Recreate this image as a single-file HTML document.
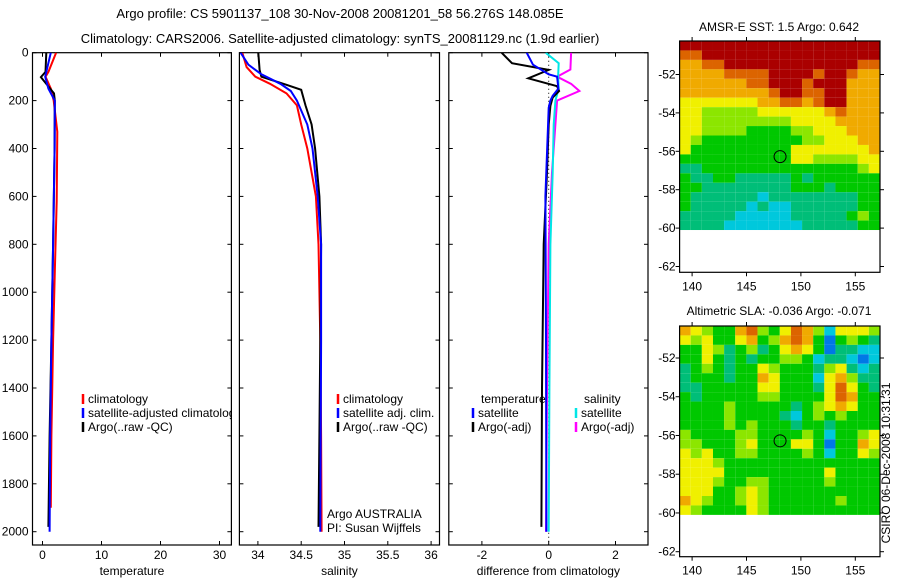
<!DOCTYPE html>
<html><head><meta charset="utf-8">
<style>
html,body{margin:0;padding:0;background:#fff;}
svg{display:block;font-family:"Liberation Sans",Arial,sans-serif;}
text{font-size:12px;fill:#000;}
</style></head>
<body>
<svg id="c" width="900" height="580" viewBox="0 0 900 580" xmlns="http://www.w3.org/2000/svg">
<text x="340" y="18" text-anchor="middle" style="font-size:13px">Argo profile: CS 5901137_108 30-Nov-2008 20081201_58 56.276S 148.085E</text>
<text x="340" y="43" text-anchor="middle" style="font-size:13px">Climatology: CARS2006. Satellite-adjusted climatology: synTS_20081129.nc (1.9d earlier)</text>
<text x="779" y="31" text-anchor="middle">AMSR-E SST: 1.5 Argo: 0.642</text>
<text x="779" y="315" text-anchor="middle">Altimetric SLA: -0.036 Argo: -0.071</text>
<text transform="translate(890,463) rotate(-90)" text-anchor="middle">CSIRO 06-Dec-2008 10:31:31</text>
</svg>
<script>
// ---------- data ----------
const depthTicks=[0,200,400,600,800,1000,1200,1400,1600,1800,2000];
const tempTicks=[0,10,20,30];
const salTicks=[34,34.5,35,35.5,36];
const diffTicks=[-2,0,2];
const latTicks=[-52,-54,-56,-58,-60,-62];
const lonTicks=[140,145,150,155];

const tArgoDepth=[0,80,102,170,200,400,800,1200,1600,1980];
const tArgo=[0.65,0.5,-0.27,1.95,2.08,2.05,1.8,1.5,1.2,1.0];
const tClimDepth=[0,80,100,150,200,330,620,900,1200,1600,1900];
const tClim=[2.3,1.0,0.5,1.4,1.9,2.5,2.4,2.1,1.8,1.5,1.4];
const tSatDepth=[0,100,150,200,400,800,1200,1600,2000];
const tSat=[1.4,0.45,1.0,2.08,2.05,1.8,1.5,1.3,1.2];

const sArgoDepth=[0,72,100,134,155,220,300,400,600,800,1200,1600,1980];
const sArgo=[34.005,34.02,34.04,34.33,34.5,34.55,34.62,34.66,34.71,34.73,34.72,34.71,34.70];
const sSatDepth=[0,50,90,130,160,200,300,400,600,800,1200,1600,2000];
const sSat=[33.8,33.89,34.04,34.26,34.38,34.45,34.57,34.63,34.69,34.73,34.73,34.725,34.72];
const sClimDepth=[0,60,100,130,170,220,300,400,500,600,800,1200,1600,2000];
const sClim=[33.82,33.87,33.97,34.14,34.33,34.45,34.50,34.57,34.62,34.67,34.70,34.72,34.73,34.735];

const dTArgoDepth=[0,44,72,107,140,160,187,222,300,500,800,1400,1980];
const dTArgo=[-1.41,-1.10,0.0,-0.61,0.25,0.31,0.12,0.05,0.0,-0.05,-0.15,-0.2,-0.22];
const dTSatDepth=[0,50,90,100,150,180,200,230,600,1200,2000];
const dTSat=[-0.66,-0.47,0.0,0.25,0.29,0.12,0.05,0.0,-0.1,-0.08,-0.07];
const dSSatDepth=[0,44,100,150,200,300,500,800,1400,2000];
const dSSat=[-0.09,0.3,0.28,0.3,0.2,0.15,0.12,0.05,0.02,0.0];
const dSArgoDepth=[0,70,100,130,160,200,300,500,800,1400,2000];
const dSArgo=[0.67,0.65,0.25,0.67,0.92,0.25,0.2,0.1,0.0,-0.05,-0.08];

const sstRows=["999999999999999999","889999999999999999","778899999999999988","777788889999899877","777777889998999777","777777778998899777","666666677887899777","665555566666678777","665555555566667777","665555444455666777","654444444445566677","644444444466666667","444444444466555566","334444444444444456","433443333343444444","443333333344434444","433333323333333344","433333232233333344","333332222233333454","333322222223333344"];
const slaRows=["765447854687526665","656446745787414543","446534534676413322","446434344554233212","345434465444356323","344434476444267533","334444466444368643","434444455444468744","444454444434567644","444454444324545444","444454544434434444","544445544445424456","554445644466414476","656445544445424465","666544444444444444","666644444444464444","666544554444454444","666445654444444444","765445654444445444","654444654444444444"];
const palette=["#0028b4","#0078e6","#00c8dc","#00be78","#00c800","#8ce600","#f0f000","#f0aa00","#dc6400","#aa0000"];

// ---------- helpers ----------
const svg=document.getElementById('c');
const NS='http://www.w3.org/2000/svg';
function mk(tag,attrs,parent){const e=document.createElementNS(NS,tag);for(const k in attrs)e.setAttribute(k,attrs[k]);(parent||svg).appendChild(e);return e;}
const Y0=52.7, YS=0.2395;
function yD(d){return Y0+YS*d;}
const PT=52.7, PB=545;
const panels=[
 {name:'temperature',l:32.5,r:231.4,x:v=>42.5+5.9*v,ticks:tempTicks,label:'temperature'},
 {name:'salinity',l:239.4,r:439.5,x:v=>257.9+86.6*(v-34),ticks:salTicks,label:'salinity'},
 {name:'difference',l:448.8,r:648,x:v=>548.7+33.4*v,ticks:diffTicks,label:'difference from climatology'}
];
panels.forEach((p,i)=>{
  const g=mk('g',{});
  
  
  const fr=mk('rect',{x:p.l,y:PT,width:p.r-p.l,height:PB-PT,fill:'none',stroke:'#000','stroke-width':1.2},g);
  
  
  depthTicks.forEach(d=>{
    const y=yD(d);
    mk('line',{x1:p.l,x2:p.l+4,y1:y,y2:y,stroke:'#000'},g);
    mk('line',{x1:p.r,x2:p.r-4,y1:y,y2:y,stroke:'#000'},g);
    if(i===0){const t=mk('text',{x:p.l-4,y:y+4,'text-anchor':'end'},g);t.textContent=d;
      
      }
  });
  p.ticks.forEach(v=>{
    const x=p.x(v);
    mk('line',{x1:x,x2:x,y1:PB,y2:PB-4,stroke:'#000'},g);
    mk('line',{x1:x,x2:x,y1:PT,y2:PT+4,stroke:'#000'},g);
    const t=mk('text',{x:x,y:559,'text-anchor':'middle'},g);t.textContent=v;
    
    
  });
  const at=mk('text',{x:(p.l+p.r)/2,y:575,'text-anchor':'middle'},g);at.textContent=p.label;
  
  
  const cp=mk('clipPath',{id:'cp'+i},svg);
  mk('rect',{x:p.l,y:PT,width:p.r-p.l,height:PB-PT},cp);
  p.g=mk('g',{'clip-path':'url(#cp'+i+')'},g);
});
function series(pi,depths,vals,color,name){
  const p=panels[pi];
  const pts=depths.map((d,k)=>p.x(vals[k]).toFixed(1)+','+yD(d).toFixed(1)).join(' ');
  const l=mk('polyline',{points:pts,fill:'none',stroke:color,'stroke-width':2},p.g);
  
  
}
const zl=mk('line',{x1:panels[2].x(0),x2:panels[2].x(0),y1:PT,y2:PB,stroke:'#000','stroke-dasharray':'1,3'},panels[2].g);



series(0,tClimDepth,tClim,'#ff0000','temp-climatology-line');
series(0,tArgoDepth,tArgo,'#000000','temp-argo-line');
series(0,tSatDepth,tSat,'#0000ff','temp-satellite-line');
series(1,sClimDepth,sClim,'#ff0000','sal-climatology-line');
series(1,sArgoDepth,sArgo,'#000000','sal-argo-line');
series(1,sSatDepth,sSat,'#0000ff','sal-satellite-line');
series(2,dSArgoDepth,dSArgo,'#ff00ff','sal-argo-diff-line');
series(2,dSSatDepth,dSSat,'#00e6e6','sal-satellite-diff-line');
series(2,dTArgoDepth,dTArgo,'#000000','temp-argo-diff-line');
series(2,dTSatDepth,dTSat,'#0000ff','temp-satellite-diff-line');

function legend(pi,x,y,color,label,name){
  const g=mk('g',{},panels[pi].g);
  
  
  if(color)mk('line',{x1:x,x2:x,y1:y-9,y2:y+1,stroke:color,'stroke-width':2.5},g);
  const t=mk('text',{x:color?x+5:x,y:y},g);t.textContent=label;
}
legend(0,83,403,'#ff0000','climatology','legend-climatology');
legend(0,83,417,'#0000ff','satellite-adjusted climatology','legend-satellite-adjusted');
legend(0,83,431,'#000000','Argo(..raw -QC)','legend-argo');
legend(1,338,403,'#ff0000','climatology','legend-climatology');
legend(1,338,417,'#0000ff','satellite adj. clim.','legend-satellite-adj');
legend(1,338,431,'#000000','Argo(..raw -QC)','legend-argo');
legend(2,481,403,null,'temperature','legend-temperature-header');
legend(2,584,403,null,'salinity','legend-salinity-header');
legend(2,473,417,'#0000ff','satellite','legend-temp-satellite');
legend(2,473,431,'#000000','Argo(-adj)','legend-temp-argo');
legend(2,576,417,'#00e6e6','satellite','legend-sal-satellite');
legend(2,576,431,'#ff00ff','Argo(-adj)','legend-sal-argo');
legend(1,327,518,null,'Argo AUSTRALIA','argo-australia-note');
legend(1,327,532,null,'PI: Susan Wijffels','pi-note');

// ---------- maps ----------
const ML=679.6, MR=880;
function xLon(lon){return 692.1+(lon-140)*10.88;}
function drawMap(rows,top,bottom,y52,sc,name){
  const yLat=lat=>y52+(-52-lat)*sc;
  const latTop=-52+(y52-top)/sc, latBot=-60.1;
  const lonL=138.85, lonR=157.27;
  const g=mk('g',{});
  
  
  const nr=rows.length, nc=rows[0].length;
  const dl=(latTop-latBot)/nr, dn=(lonR-lonL)/nc;
  rows.forEach((row,r)=>{
    for(let c=0;c<nc;c++){
      const x1=xLon(lonL+c*dn), x2=xLon(lonL+(c+1)*dn);
      const y1=yLat(latTop-r*dl), y2=yLat(latTop-(r+1)*dl);
      const cell=mk('rect',{x:x1.toFixed(2),y:y1.toFixed(2),width:(x2-x1).toFixed(2),height:(y2-y1).toFixed(2),fill:palette[+row[c]]},g);
      
      
    }
  });
  const fr=mk('rect',{x:ML,y:top,width:MR-ML,height:bottom-top,fill:'none',stroke:'#000','stroke-width':1.2},g);
  
  
  latTicks.forEach(l=>{
    const y=yLat(l);
    mk('line',{x1:ML,x2:ML-4,y1:y,y2:y,stroke:'#000'},g);
    mk('line',{x1:MR,x2:MR+4,y1:y,y2:y,stroke:'#000'},g);
    const t=mk('text',{x:ML-4,y:y+4,'text-anchor':'end'},g);t.textContent=l;
    
    
  });
  lonTicks.forEach(l=>{
    const x=xLon(l);
    mk('line',{x1:x,x2:x,y1:top,y2:top-4,stroke:'#000'},g);
    mk('line',{x1:x,x2:x,y1:bottom,y2:bottom+4,stroke:'#000'},g);
    const t=mk('text',{x:x,y:bottom+18,'text-anchor':'middle'},g);t.textContent=l;
    
    
  });
  const m=mk('circle',{cx:xLon(148.085),cy:yLat(-56.276),r:6,fill:'none',stroke:'#000','stroke-width':1},g);
  
  
}
drawMap(sstRows,41,272.3,74.5,19.2,'sst-map');
drawMap(slaRows,326,556.7,358,19.37,'sla-map');
</script>
</body></html>
